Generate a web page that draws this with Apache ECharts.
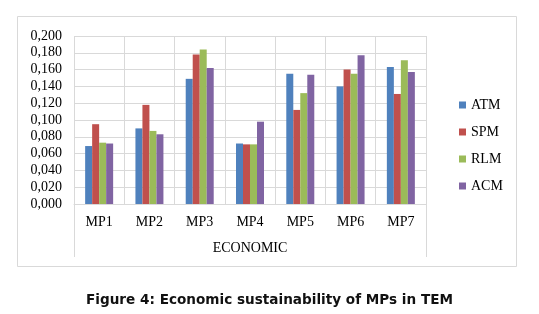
<!DOCTYPE html>
<html>
<head>
<meta charset="utf-8">
<script src="https://cdn.jsdelivr.net/npm/echarts@6/dist/echarts.min.js"></script>
<style>html,body{margin:0;padding:0;background:#fff;}#c{width:539px;height:314px;}</style>
</head>
<body>
<div id="c"></div>
<script>
var categories = ['MP1','MP2','MP3','MP4','MP5','MP6','MP7'];
var groupLabel = ['ECONOMIC'];
var seriesNames = ['ATM','SPM','RLM','ACM'];
var ATM = [0.069, 0.090, 0.149, 0.072, 0.155, 0.140, 0.163];
var SPM = [0.095, 0.118, 0.178, 0.071, 0.112, 0.160, 0.131];
var RLM = [0.073, 0.087, 0.184, 0.071, 0.132, 0.155, 0.171];
var ACM = [0.072, 0.083, 0.162, 0.098, 0.154, 0.177, 0.157];
var yTicks = {min: 0, max: 0.2, interval: 0.02};
var caption = 'Figure 4: Economic sustainability of MPs in TEM';

var colors = ['#4F81BD','#C0504D','#9BBB59','#8064A2'];
var values = [ATM, SPM, RLM, ACM];
var grey = '#d9d9d9';
var serif = '"Liberation Serif", "Times New Roman", serif';

var chart = echarts.init(document.getElementById('c'), null, {renderer: 'canvas'});
chart.setOption({
  backgroundColor: '#fff',
  animation: false,
  title: {
    text: caption, left: 'center', top: 288,
    textStyle: {fontFamily: '"DejaVu Sans", Verdana, sans-serif', fontWeight: 'bold', fontSize: 13.6, color: '#111'}
  },
  graphic: [{
    type: 'rect', shape: {x: 17.5, y: 16.5, width: 499, height: 250},
    style: {fill: 'none', stroke: grey, lineWidth: 1}, silent: true, z: -1
  }],
  legend: {
    orient: 'vertical', left: 454, top: 93,
    itemWidth: 7, itemHeight: 7, itemGap: 13,
    icon: 'rect',
    textStyle: {fontFamily: serif, fontSize: 14, color: '#000'},
    data: seriesNames
  },
  grid: {left: 74, top: 36, width: 352, height: 168},
  xAxis: [{
    type: 'category', data: categories, position: 'bottom',
    axisLine: {lineStyle: {color: grey}},
    axisTick: {show: false},
    splitLine: {show: true, lineStyle: {color: grey}},
    axisLabel: {fontFamily: serif, fontSize: 14, color: '#000', margin: 11}
  }, {
    type: 'category', data: groupLabel, position: 'bottom',
    axisLine: {show: false},
    axisTick: {show: true, length: 53, lineStyle: {color: grey}},
    splitLine: {show: false},
    axisLabel: {fontFamily: serif, fontSize: 14, color: '#000', margin: 37}
  }],
  yAxis: {
    type: 'value', min: yTicks.min, max: yTicks.max, interval: yTicks.interval,
    axisLine: {show: false}, axisTick: {show: false},
    splitLine: {lineStyle: {color: grey}},
    axisLabel: {
      fontFamily: serif, fontSize: 14, color: '#000', margin: 12,
      formatter: function (v) { return v.toFixed(3).replace('.', ','); }
    }
  },
  series: seriesNames.map(function (n, i) {
    return {
      name: n, type: 'bar', xAxisIndex: 0, data: values[i],
      barWidth: 7, barGap: '0%',
      itemStyle: {color: colors[i]}
    };
  })
});
</script>
</body>
</html>
